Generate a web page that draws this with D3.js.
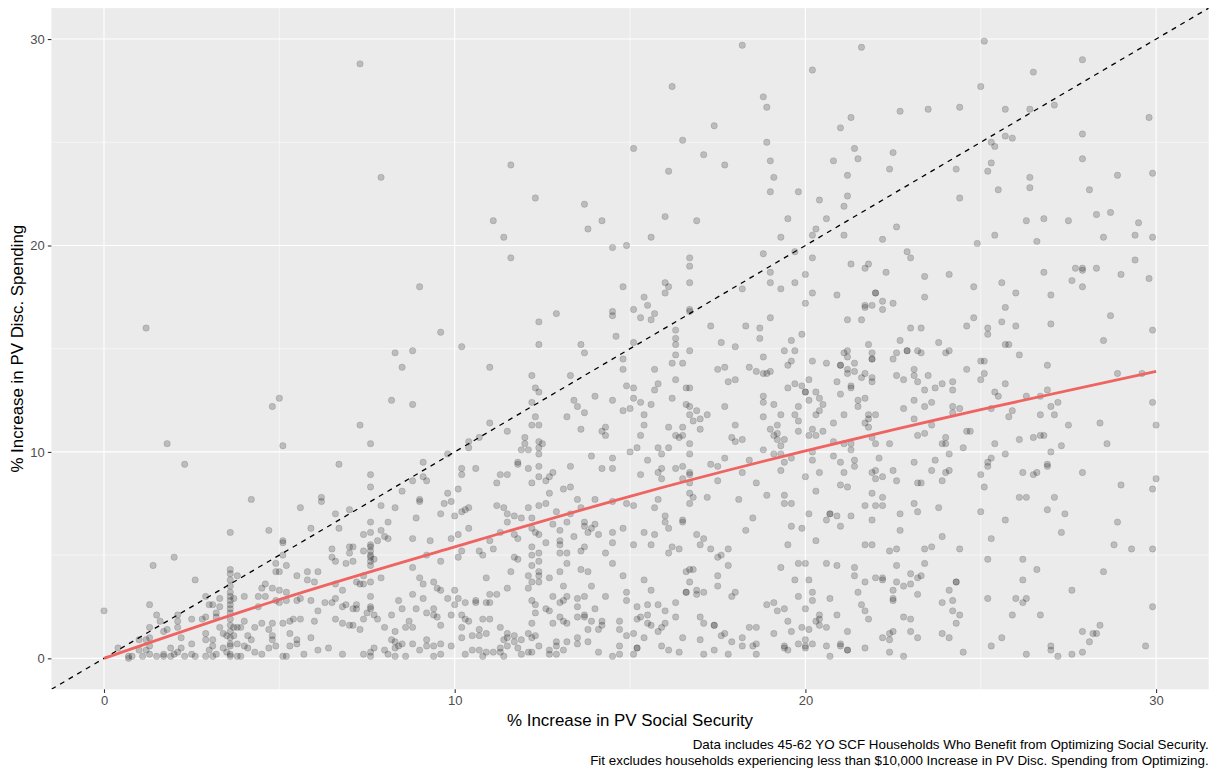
<!DOCTYPE html>
<html>
<head>
<meta charset="utf-8">
<script src="https://cdn.jsdelivr.net/npm/d3@7"></script>
<style>
  body { margin: 0; background: #fff; }
  text { font-family: "Liberation Sans", Arial, Helvetica, sans-serif; }
</style>
</head>
<body>
<div id="chart"></div>
<script>
// ---- data: [% increase in PV Social Security, % increase in PV disc. spending]
const pointsBand1 = [
  [1.2,16.0],[5.0,12.6],[4.8,12.2],[1.8,10.4],[5.1,10.3],[2.3,9.4],[6.7,9.4],
  [4.2,7.7],[5.6,7.3],[6.2,7.8],[6.2,7.6],[6.6,7.0],[6.7,6.3],[3.6,6.1],[4.7,6.2],[5.9,6.3],[5.1,5.7],[5.1,5.6],
  [0.0,2.3],[1.4,4.5],[2.0,4.9],[2.6,3.8],[5.2,4.5],[4.9,4.6],[4.9,4.2],[6.5,5.3],[6.5,4.9],[6.6,4.7],
  [3.6,4.3],[3.6,4.1],[3.6,3.8],[3.6,3.5],[3.6,3.2],[3.6,3.0],[3.6,2.8],[3.6,2.6],[3.6,2.4],[3.6,2.2],
  [3.6,1.9],[3.6,1.6],[3.6,1.3],[3.6,1.0],[3.6,0.6],[3.6,0.2],
  [3.8,4.0],[5.8,4.2],[6.1,4.2],[5.5,4.0],[5.8,3.8],[6.0,3.7],[4.5,3.4],[4.6,3.6],[4.8,3.4],[5.0,3.3],
  [5.2,3.2],[6.6,3.6],[2.9,3.0],[3.0,2.6],[3.1,2.6],[3.3,2.9],[3.3,2.5],[3.2,2.2],[3.2,2.0],[4.0,3.0],
  [3.7,2.9],[4.4,3.0],[4.6,3.0],[4.9,2.8],[5.0,2.7],[5.2,2.8],[5.5,2.8],[5.6,2.9],[5.9,2.8],[6.3,2.7],
  [6.5,2.7],[6.6,2.9],[6.1,2.3],[6.6,1.9],[1.3,2.6],[1.5,2.1],[1.6,1.8],[2.1,1.8],[2.1,2.1],[1.8,1.4],
  [2.1,1.5],[1.7,1.3],[1.3,1.5],[1.3,1.0],[1.2,0.9],[1.0,0.9],[0.4,0.5],[2.2,1.0],[2.5,1.9],[2.8,1.9],
  [2.9,2.0],[2.9,1.2],[2.9,0.9],[3.1,0.9],[2.5,0.7],[3.3,1.5],[3.4,1.2],[3.5,1.1],[3.7,1.5],[3.8,1.5],
  [3.9,1.5],[4.0,1.8],[3.6,0.7],[3.8,0.7],[4.0,0.6],[4.1,0.5],[4.2,0.9],[4.5,1.7],[4.8,1.7],[4.7,1.4],
  [4.8,1.1],[4.8,0.9],[4.9,0.6],[5.1,1.7],[5.3,1.2],[5.3,1.8],[5.4,1.9],[5.6,1.9],[5.5,0.9],[5.5,0.7],
  [5.3,0.6],[5.9,1.0],[6.0,1.8],[6.4,0.5],[6.1,0.4],[5.7,0.2],[5.1,0.1],[5.2,0.1],[4.5,0.2],[4.3,0.3],
  [4.7,0.5],[3.8,0.1],[3.9,0.1],[3.6,0.1],[3.4,0.5],[3.5,0.3],[3.2,0.2],[3.0,0.4],[3.1,0.6],[2.9,0.1],
  [3.1,0.1],[2.6,0.1],[2.5,0.2],[2.3,0.1],[2.2,0.5],[2.1,0.3],[2.0,0.2],[1.9,0.5],[1.9,0.1],[1.7,0.2],
  [1.7,0.1],[1.5,0.1],[1.3,0.2],[1.3,0.6],[1.1,0.1],[1.2,0.4],[1.0,0.4],[0.7,0.1],[0.7,0.0],[0.8,0.1],
  [4.3,1.5],[4.1,1.1],[5.1,5.0],[5.0,4.2],[4.4,2.5],[3.7,1.1]
];

const pointsBand2 = [
  [7.3,28.8],[7.9,23.3],[11.6,23.9],[12.3,22.3],[13.7,22.0],[11.1,21.2],[14.2,21.2],[13.8,20.8],[11.4,20.4],
  [14.5,19.9],[14.9,20.0],[11.6,19.4],[9.0,18.0],[14.8,18.0],[12.9,16.7],[14.5,16.8],[14.5,16.6],[12.4,16.3],
  [9.6,15.8],[14.6,15.6],[10.2,15.1],[12.4,15.2],[13.6,15.2],[13.7,14.8],[8.3,14.8],[8.8,14.9],[8.5,14.1],
  [11.0,14.1],[14.8,14.5],[14.8,14.0],[12.2,13.7],[13.3,13.7],[12.3,13.1],[12.4,12.9],[14.9,13.2],[8.2,12.5],
  [8.8,12.3],[12.2,12.4],[13.4,12.5],[13.5,12.2],[14.0,12.7],[14.5,12.5],[14.8,12.0],[13.7,11.9],[7.3,11.3],
  [12.3,11.7],[12.2,11.3],[12.4,11.3],[13.2,11.7],[13.6,11.1],[14.2,11.0],[14.3,11.2],[14.3,10.8],[11.0,11.4],
  [11.5,11.0],[7.6,10.4],[10.4,10.5],[10.4,10.2],[10.7,10.7],[12.0,10.7],[12.0,10.4],[11.9,10.1],[12.1,10.1],
  [12.4,10.5],[12.5,10.4],[12.4,10.2],[12.4,9.9],[13.9,9.8],[14.5,9.7],[9.8,9.9],[9.1,9.5],[15.0,10.0],[11.8,9.5],
  [7.6,8.9],[7.6,8.3],[8.8,8.6],[9.1,8.8],[9.2,8.6],[8.5,8.1],[9.0,7.6],[9.0,7.7],[7.9,7.4],[8.3,7.3],
  [7.0,7.2],[7.6,6.6],[7.6,6.1],[7.6,5.5],[7.6,5.4],[7.6,5.2],[7.6,5.0],[7.6,4.9],[7.6,4.7],[7.6,4.5],
  [7.7,4.8],[8.1,6.6],[7.9,6.2],[8.0,5.9],[8.1,5.8],[7.8,5.7],[7.4,6.0],[7.1,5.4],[7.0,5.4],[7.0,5.1],
  [7.4,5.2],[7.1,4.7],[6.9,4.6],[8.9,6.8],[8.8,5.8],[9.3,5.7],[9.2,5.0],[9.6,4.7],[9.6,7.0],[9.7,7.5],
  [9.8,8.0],[9.9,7.6],[10.0,6.9],[10.1,8.2],[9.9,5.8],[10.2,9.2],[10.2,8.9],[10.6,9.2],[10.2,7.1],[10.3,7.2],
  [10.4,7.3],[10.4,6.3],[10.1,6.0],[10.2,5.2],[10.1,4.9],[10.7,5.2],[10.8,5.0],[11.0,5.7],[11.1,5.3],[11.2,8.5],
  [11.3,8.9],[11.5,8.9],[11.2,7.4],[11.4,7.3],[11.5,7.0],[11.5,6.6],[11.7,6.9],[11.9,6.8],[11.3,6.1],[11.7,6.0],
  [11.8,5.8],[11.7,4.9],[11.8,4.8],[11.6,4.2],[10.9,3.9],[11.5,3.4],[11.2,3.1],[11.0,3.1],[11.8,9.4],[12.1,9.2],
  [12.4,9.3],[12.2,8.5],[12.4,8.8],[12.6,8.6],[12.7,8.8],[12.8,9.0],[12.7,8.0],[13.3,8.3],[13.1,8.2],[13.3,9.3],
  [14.2,9.2],[14.5,9.2],[12.1,7.3],[12.4,7.4],[12.6,7.5],[12.2,6.8],[12.2,6.3],[12.3,6.1],[12.4,6.0],[12.6,5.6],
  [12.2,5.4],[12.4,5.1],[12.2,5.0],[12.4,4.7],[12.2,4.5],[12.4,4.2],[12.4,4.0],[12.4,3.7],[12.1,4.0],[12.2,3.7],
  [12.1,3.4],[12.7,3.9],[13.0,4.2],[13.2,4.6],[13.6,4.3],[13.8,4.2],[13.1,3.5],[12.8,3.0],[13.1,2.8],[13.2,3.0],
  [13.0,2.7],[13.5,2.9],[13.7,3.0],[13.9,3.5],[13.5,2.5],[13.7,2.1],[14.0,2.4],[14.3,3.0],[13.5,2.0],[13.7,2.0],
  [12.8,1.7],[13.0,2.0],[13.1,1.8],[13.2,1.7],[12.2,2.8],[12.3,2.6],[12.6,2.4],[12.7,2.3],[12.3,2.2],[12.2,1.7],
  [12.1,1.2],[12.3,1.1],[12.2,1.0],[13.9,1.8],[14.2,1.8],[14.2,1.6],[14.1,1.4],[13.8,1.4],[14.7,1.8],[14.7,1.4],
  [14.9,1.1],[13.5,1.0],[13.5,0.7],[13.8,0.8],[13.2,0.8],[12.9,0.8],[12.9,0.6],[13.1,0.4],[12.9,0.2],[12.7,0.4],
  [12.7,0.2],[12.4,0.6],[12.2,0.3],[12.1,0.3],[11.9,0.9],[11.8,0.5],[11.9,0.2],[11.7,0.8],[11.7,1.1],[11.5,1.2],
  [11.5,1.0],[11.4,0.9],[11.5,0.6],[11.3,0.5],[11.4,0.1],[11.3,0.3],[11.1,0.3],[10.9,0.3],[10.7,0.4],[10.8,0.1],
  [10.5,0.4],[10.3,0.2],[10.7,1.4],[10.5,1.1],[10.7,1.1],[10.2,1.0],[10.2,1.5],[10.9,1.2],[11.3,1.5],[10.2,2.1],
  [10.3,1.9],[10.4,1.8],[10.8,1.9],[11.0,1.9],[10.0,2.6],[10.1,2.9],[10.3,2.7],[10.6,2.7],[10.6,2.8],[10.9,2.7],
  [11.0,2.7],[10.0,3.3],[9.8,2.9],[9.6,3.3],[9.5,3.4],[9.4,3.7],[9.0,3.9],[9.1,3.6],[8.8,3.1],[9.1,2.9],
  [8.4,2.8],[8.5,2.4],[8.9,2.4],[9.2,2.2],[9.4,2.4],[9.4,2.1],[9.5,2.0],[9.9,2.1],[9.6,1.6],[8.7,1.8],
  [8.8,1.5],[8.6,1.5],[8.2,2.1],[7.8,1.9],[7.7,2.1],[7.6,2.5],[7.6,2.4],[7.5,2.2],[7.6,3.0],[7.2,2.4],
  [7.1,2.4],[6.9,2.6],[7.2,2.6],[6.8,2.5],[7.4,1.9],[6.8,1.7],[7.0,1.6],[7.1,1.6],[7.3,1.4],[8.0,1.5],
  [8.3,1.3],[8.2,0.9],[8.3,0.8],[8.5,0.7],[8.4,0.6],[8.8,0.7],[8.3,0.5],[8.0,0.4],[7.7,0.5],[7.6,0.3],
  [7.4,0.2],[7.6,0.1],[8.1,0.2],[8.3,0.1],[8.6,0.1],[6.8,0.2],[9.0,0.4],[9.2,0.9],[9.2,0.6],[9.4,0.6],
  [9.6,0.7],[9.6,0.2],[9.4,0.1],[9.9,0.6],[7.3,3.6],[7.2,3.7],[7.4,3.6],[7.6,3.7],[7.9,3.9],[7.4,4.0],
  [6.8,3.3],[8.8,4.4],[14.5,6.1],[14.5,5.6],[14.3,5.1],[14.5,4.6],[14.8,4.0],[14.9,3.2],[14.9,2.8],[14.8,6.3],
  [14.7,0.6],[14.7,0.2],[14.5,0.1],[14.1,0.3],[14.5,7.6],[14.9,7.5],[14.0,7.7],[13.5,7.7],[13.6,7.3],[13.7,6.6],
  [13.7,6.4],[13.9,6.3],[13.8,6.1],[14.1,6.0],[14.0,6.5],[13.4,5.9],[13.7,5.4],[13.6,5.2],[13.2,5.1],[13.0,5.1],
  [13.0,5.5],[13.0,5.7],[13.0,6.2],[13.2,6.6],[12.8,6.5],[12.9,7.1],[13.3,7.0]
];

const pointsBand3 = [
  [18.2,29.7],[16.2,27.7],[18.8,27.2],[18.9,26.7],[17.4,25.8],[16.5,25.1],[15.1,24.7],[18.9,25.0],[17.1,24.4],
  [19.0,24.1],[17.7,23.9],[16.1,23.6],[19.1,23.3],[19.0,22.6],[19.8,22.6],[16.0,21.4],[16.9,21.2],[19.5,21.3],
  [20.2,28.5],[21.6,29.6],[22.7,26.5],[21.3,26.2],[21.0,25.7],[21.4,24.7],[21.5,24.2],[22.5,24.5],[20.8,24.1],
  [22.4,23.7],[21.2,23.4],[21.2,22.4],[20.4,22.2],[21.1,21.9],[20.6,21.3],[22.6,20.9],[20.3,20.8],[20.2,20.5],
  [21.1,20.5],[19.3,20.4],[15.6,20.4],
  [22.2,20.3],[18.8,19.6],[19.7,19.7],[20.2,19.4],[16.7,19.4],[16.7,19.0],[16.7,18.2],[16.0,18.2],[16.1,18.0],
  [16.0,17.7],[15.4,17.5],[15.5,17.1],[15.1,16.9],[15.3,16.5],[15.6,16.4],[15.7,16.7],[16.7,16.9],[16.7,16.8],
  [16.3,15.9],[16.3,15.5],[16.3,15.2],[15.1,15.3],[16.7,14.9],[16.3,14.7],[16.2,14.3],[16.5,14.3],[15.7,14.0],
  [16.3,13.5],[15.8,13.3],[15.7,13.0],[15.1,13.1],[15.1,12.6],[15.3,12.4],[15.0,12.1],[15.4,11.8],[15.4,11.3],
  [15.6,12.3],[16.2,12.6],[16.6,13.1],[16.7,13.1],[16.6,12.3],[16.7,12.2],[16.9,12.0],[16.7,11.8],[17.0,11.6],
  [16.8,11.5],[17.2,11.8],[17.0,11.1],[16.5,11.2],[16.1,11.2],[16.3,10.8],[16.5,10.8],[16.4,10.7],[15.3,10.8],
  [16.7,10.4],[15.2,10.2],[15.8,10.2],[16.1,10.2],[15.9,9.9],[16.7,9.9],[15.5,9.6],[17.3,16.1],[17.6,15.3],
  [18.0,15.1],[18.2,17.9],[18.3,16.1],[18.7,16.0],[18.7,15.5],[19.0,16.5],[19.0,18.7],[19.0,18.2],[19.3,17.9],
  [19.7,18.2],[20.0,18.6],[20.2,17.7],[20.0,17.2],[19.9,15.7],[19.6,15.4],[19.4,14.9],[19.7,14.9],[18.8,14.6],
  [19.6,14.4],[19.5,14.2],[18.4,14.1],[17.5,14.0],[17.7,14.1],[18.6,13.9],[18.8,13.8],[18.9,13.8],[19.0,13.9],
  [17.8,13.4],[18.0,13.5],[19.7,13.3],[19.5,13.1],[19.9,13.2],[20.0,12.9],[20.0,12.9],[18.8,12.7],[18.8,12.4],
  [19.1,12.3],[17.7,12.2],[19.8,12.2],[18.8,11.7],[19.3,11.8],[19.7,11.8],[19.8,11.5],[18.0,11.3],[19.0,11.1],
  [19.2,11.3],[19.2,10.9],[19.8,11.0],[19.1,10.8],[19.2,10.6],[19.4,10.6],[19.3,10.3],[17.9,10.7],[18.0,10.5],
  [18.2,10.6],[18.8,10.1],[19.1,9.9],[19.3,9.9],[19.4,9.5],[19.6,9.7],[17.7,9.7],[18.4,9.6],[17.3,9.4],
  [21.3,19.1],[21.7,18.9],[21.8,19.1],[22.3,18.7],[22.9,19.7],[23.0,19.4],[20.9,17.6],[22.0,17.7],[22.0,17.7],
  [21.7,17.1],[21.7,17.0],[21.9,17.1],[22.2,17.3],[22.2,16.9],[22.5,17.2],[21.2,16.4],[21.6,16.4],[23.0,16.0],
  [22.7,15.4],[21.8,15.2],[21.1,14.8],[21.2,14.9],[21.9,14.8],[21.9,14.5],[21.9,14.5],[21.2,14.6],[20.2,14.4],
  [20.6,14.3],[21.0,14.2],[21.0,14.2],[21.4,14.3],[21.2,14.0],[21.2,13.8],[21.4,13.9],[21.7,13.8],[21.6,13.6],
  [21.9,13.6],[21.9,13.4],[22.5,14.5],[22.6,14.8],[22.9,14.9],[22.9,14.9],[23.2,14.9],[23.1,14.0],[22.6,13.7],
  [22.8,13.5],[23.1,13.7],[23.2,13.4],[20.1,13.5],[20.9,13.4],[21.3,13.2],[21.3,13.1],[20.3,12.9],[21.0,12.8],
  [20.4,12.6],[20.1,12.5],[20.5,12.3],[21.5,12.5],[21.7,12.6],[21.5,12.2],[20.4,12.0],[20.3,11.8],[21.1,11.8],
  [21.8,11.8],[21.8,11.6],[22.0,11.8],[22.8,12.1],[23.1,12.5],[23.1,11.6],[20.8,11.4],[21.7,11.4],[21.8,11.2],
  [20.2,11.1],[20.5,11.0],[20.1,10.8],[20.3,10.8],[21.9,10.7],[22.0,10.4],[22.4,10.4],[20.8,10.5],[21.1,10.4],
  [21.3,10.4],[21.3,10.1],[20.2,10.0],[20.8,9.8],[22.1,9.7],[20.2,9.6],[21.0,9.5],[21.4,9.6],[23.1,9.5],[23.2,10.8],
  [15.3,8.9],[15.8,9.0],[15.9,9.2],[15.9,8.7],[16.3,9.2],[16.5,9.3],[16.5,8.7],[16.7,9.0],[16.7,8.9],[16.7,8.5],
  [17.5,9.3],[17.5,8.6],[18.2,9.0],[18.6,8.5],[19.3,9.1],[20.0,8.8],[20.4,9.0],[21.1,9.0],[21.4,9.3],[21.9,9.0],
  [22.0,9.1],[22.0,8.7],[22.2,8.8],[22.5,9.1],[22.6,8.6],[23.2,8.5],[21.0,8.4],[21.2,8.3],[20.3,8.1],[21.9,8.0],
  [22.2,7.8],[21.7,7.4],[22.0,7.4],[22.2,7.4],[22.7,7.0],[23.1,7.5],[23.2,7.1],[21.9,6.7],[22.7,6.2],[21.7,5.5],
  [21.9,5.5],[22.4,5.2],[22.6,5.3],[15.8,7.7],[15.7,7.3],[15.1,7.4],[16.0,6.9],[16.0,6.6],[16.1,6.3],[16.5,6.6],
  [16.5,6.7],[16.7,8.0],[16.8,7.8],[16.7,7.5],[17.2,7.8],[18.1,7.7],[18.9,7.9],[19.4,7.9],[19.4,7.5],[19.6,7.5],
  [18.5,6.8],[18.3,6.2],[19.6,6.4],[19.9,6.3],[20.1,7.0],[20.7,7.0],[20.7,7.0],[20.6,6.7],[20.9,6.9],[21.3,6.9],
  [21.0,6.4],[20.3,5.7],[19.5,5.5],[15.4,6.1],[15.7,6.0],[15.1,5.5],[15.6,5.5],[16.2,5.4],[16.4,5.3],[16.1,5.1],
  [16.9,6.0],[17.1,5.8],[17.0,5.5],[17.3,5.3],[17.8,5.3],[17.6,5.0],[17.5,4.9],[17.8,4.5],[16.6,4.2],[16.7,4.3],
  [16.8,4.3],[17.5,4.0],[15.4,3.8],[16.7,3.7],[17.5,3.5],[15.6,3.3],[16.6,3.2],[16.6,3.2],[16.9,3.3],[16.9,3.1],
  [17.1,3.2],[18.0,3.2],[17.9,3.0],[16.3,2.7],[15.2,2.5],[15.5,2.6],[15.8,2.6],[16.0,2.3],[16.3,2.0],[15.5,2.1],
  [15.3,2.0],[15.2,1.9],[15.5,1.7],[15.6,1.6],[16.0,1.7],[15.9,1.5],[15.8,1.3],[15.1,1.2],[15.4,1.0],[15.2,0.5],
  [15.2,0.5],[15.1,0.2],[15.9,0.6],[16.1,0.4],[16.4,0.3],[16.5,1.0],[17.0,0.9],[17.1,0.2],[17.4,0.4],[17.8,0.2],
  [17.0,2.0],[17.1,1.7],[17.4,1.6],[17.4,1.6],[17.6,1.1],[17.7,1.2],[17.9,0.8],[18.2,0.6],[18.2,1.0],[18.4,1.5],
  [18.6,1.5],[18.5,0.6],[18.6,0.7],[18.6,0.2],[18.9,2.6],[19.1,2.7],[19.2,2.3],[19.4,2.4],[19.5,1.8],[19.1,1.2],
  [19.6,1.3],[19.4,0.6],[19.4,0.5],[19.5,0.4],[19.8,0.7],[20.0,2.4],[19.9,1.5],[20.1,1.4],[20.0,0.9],[20.0,0.6],
  [20.0,0.5],[20.2,0.7],[20.6,0.6],[20.7,0.1],[21.0,0.6],[21.0,0.7],[21.2,0.4],[21.2,0.4],[21.7,0.5],[22.4,0.3],
  [22.8,0.1],[19.3,4.4],[19.7,3.8],[19.8,4.6],[20.0,4.6],[20.1,3.8],[20.2,3.2],[19.8,3.0],[20.2,2.8],[20.6,4.6],
  [20.9,4.5],[21.4,4.4],[21.4,4.0],[21.7,3.7],[22.0,3.9],[22.2,3.9],[22.2,3.8],[22.6,4.5],[22.6,3.7],[22.8,3.5],
  [23.0,4.1],[23.0,3.6],[23.2,3.9],[23.2,3.1],[22.5,3.3],[22.5,2.8],[22.5,2.9],[21.5,3.2],[20.7,2.9],[21.6,2.6],
  [21.7,2.3],[21.8,1.9],[20.9,2.1],[20.4,2.1],[20.3,1.8],[20.4,1.9],[20.4,1.6],[20.6,1.5],[21.2,1.3],[22.8,2.0],
  [23.0,1.9],[23.0,1.3],[23.2,1.0],[22.2,1.0],[22.4,1.2],[22.5,1.3],[22.4,0.9]
];

const pointsBand4 = [
  [25.1,29.9],[27.9,29.0],[26.5,28.4],[25.0,27.7],[23.5,26.6],[24.4,26.7],[25.7,26.6],[26.4,26.6],[27.1,26.8],
  [29.8,26.2],[25.7,25.3],[25.9,25.2],[27.9,25.4],[25.3,25.0],[25.4,24.8],[25.3,24.0],[25.2,23.6],[24.3,23.7],
  [27.9,24.2],[26.4,23.3],[26.4,22.8],[25.5,22.7],[28.1,22.7],[28.9,23.4],[29.9,23.5],[24.4,22.3],[26.3,21.2],
  [26.8,21.3],[27.5,21.2],[28.3,21.5],[28.7,21.6],[29.5,21.1],[25.4,20.5],[28.5,20.4],[29.4,20.5],[29.9,20.4],
  [24.9,20.1],[26.6,20.2],[23.4,18.5],[24.1,18.6],[23.4,17.5],[24.8,18.0],[25.6,18.2],[26.0,17.7],[26.8,18.7],
  [27.0,17.6],[27.6,18.3],[27.7,18.9],[27.9,18.9],[27.9,18.8],[28.3,18.9],[27.9,18.0],[29.0,18.6],[29.4,19.3],
  [29.8,18.4],[23.3,16.0],[24.6,16.1],[24.8,16.5],[25.2,16.0],[25.2,15.7],[25.6,16.3],[25.7,17.0],[26.0,16.1],
  [27.0,16.2],[28.7,16.6],[29.9,15.9],[23.8,15.3],[23.3,14.8],[24.0,14.8],[24.1,14.9],[25.7,15.2],[25.8,15.2],
  [28.5,15.4],[26.1,14.7],[25.0,14.4],[25.1,14.4],[26.9,14.2],[24.6,14.0],[23.5,13.7],[25.1,13.8],[25.0,13.5],
  [23.9,13.3],[24.2,13.4],[25.7,13.3],[28.9,13.8],[29.6,13.8],[23.4,13.0],[23.7,13.1],[24.2,13.0],[25.4,12.9],
  [25.5,12.7],[26.3,12.7],[26.7,12.7],[26.9,13.0],[23.6,12.4],[24.2,12.2],[24.4,12.1],[23.4,12.2],[24.2,11.9],
  [25.3,12.1],[25.9,12.0],[25.8,11.7],[27.2,12.4],[27.0,12.2],[26.7,11.8],[27.1,11.8],[29.9,12.4],[23.6,11.3],
  [23.4,10.9],[24.6,11.0],[24.7,11.0],[27.5,11.3],[28.4,11.4],[30.0,11.3],[24.0,10.7],[23.9,10.4],[24.0,10.4],
  [24.5,10.2],[25.4,10.4],[26.1,10.6],[26.5,10.7],[26.7,10.8],[26.8,10.8],[27.3,10.3],[28.6,10.4],[24.1,9.9],
  [23.7,9.6],[25.3,9.7],[25.7,9.9],[25.2,9.5],[27.0,10.0],[26.9,9.4],
  [23.6,9.1],[24.0,9.0],[24.1,9.1],[23.3,8.5],[23.9,8.6],[25.0,8.9],[25.2,9.3],[25.1,8.3],[26.2,9.0],[26.5,8.9],
  [26.6,9.0],[26.9,9.3],[27.9,9.0],[26.1,7.8],[26.3,7.8],[27.1,7.8],[29.0,8.4],[30.0,8.7],[29.9,8.2],[23.8,7.3],
  [25.0,7.1],[26.9,7.2],[27.4,7.0],[25.7,6.7],[28.9,6.6],[27.3,6.1],[23.9,5.9],[25.3,5.8],[23.4,5.3],[23.6,5.4],
  [24.4,5.3],[28.8,5.5],[29.3,5.3],[29.9,5.3],[23.4,4.6],[23.3,4.0],[25.2,4.8],[26.2,4.8],[26.6,4.3],[26.2,3.8],
  [28.5,4.2],[24.3,3.7],[24.3,3.7],[24.1,3.3],[27.6,3.3],[23.9,2.7],[24.2,2.8],[24.2,2.3],[24.4,2.1],[24.3,1.7],
  [25.2,2.9],[26.0,2.9],[26.2,2.7],[26.3,2.9],[25.9,2.1],[26.7,2.1],[29.9,2.5],[23.9,1.2],[24.1,1.0],[24.5,0.3],
  [25.3,0.6],[25.6,1.0],[26.3,0.2],[27.0,0.6],[27.0,0.4],[27.2,0.1],[27.6,0.2],[27.9,0.3],[27.9,1.3],[28.1,0.8],
  [28.2,1.2],[28.3,1.2],[28.4,1.6],[29.7,0.6]
];

// smoothed fit
const fitSS = [0, 5, 10, 15, 20, 25, 30];
const fitSpend = [0, 2.85, 5.4, 7.85, 10.05, 12.05, 13.9];

const majorTicks = [0, 10, 20, 30];
const minorTicks = [5, 15, 25];
const xTitle = "% Increase in PV Social Security";
const yTitle = "% Increase in PV Disc. Spending";
const captionLines = [
  "Data includes 45-62 YO SCF Households Who Benefit from Optimizing Social Security.",
  "Fit excludes households experiencing less than $10,000 Increase in PV Disc. Spending from Optimizing."
];

// -----------------------------
// SVG + SCALES
// -----------------------------
const width = 1214, height = 769;
const panel = { left: 51.4, right: 1208.7, top: 8.1, bottom: 689.3 };

const svg = d3.select("#chart").append("svg")
  .attr("width", width)
  .attr("height", height);

const x = d3.scaleLinear().domain([-1.5, 31.5]).range([panel.left, panel.right]);
const y = d3.scaleLinear().domain([-1.5, 31.5]).range([panel.bottom, panel.top]);

svg.append("rect")
  .attr("x", panel.left).attr("y", panel.top)
  .attr("width", panel.right - panel.left)
  .attr("height", panel.bottom - panel.top)
  .attr("fill", "#EBEBEB");

svg.append("clipPath").attr("id", "panel-clip")
  .append("rect")
  .attr("x", panel.left).attr("y", panel.top)
  .attr("width", panel.right - panel.left)
  .attr("height", panel.bottom - panel.top);

// grid
const grid = svg.append("g");
grid.selectAll(".vminor").data(minorTicks).enter().append("line")
  .attr("x1", d => x(d)).attr("x2", d => x(d))
  .attr("y1", panel.top).attr("y2", panel.bottom)
  .attr("stroke", "#fff").attr("stroke-width", 0.55);
grid.selectAll(".hminor").data(minorTicks).enter().append("line")
  .attr("y1", d => y(d)).attr("y2", d => y(d))
  .attr("x1", panel.left).attr("x2", panel.right)
  .attr("stroke", "#fff").attr("stroke-width", 0.55);
grid.selectAll(".vmajor").data(majorTicks).enter().append("line")
  .attr("x1", d => x(d)).attr("x2", d => x(d))
  .attr("y1", panel.top).attr("y2", panel.bottom)
  .attr("stroke", "#fff").attr("stroke-width", 1.1);
grid.selectAll(".hmajor").data(majorTicks).enter().append("line")
  .attr("y1", d => y(d)).attr("y2", d => y(d))
  .attr("x1", panel.left).attr("x2", panel.right)
  .attr("stroke", "#fff").attr("stroke-width", 1.1);

// -----------------------------
// POINTS
// -----------------------------
const allPoints = [].concat(pointsBand1, pointsBand2, pointsBand3, pointsBand4);

svg.append("g")
  .selectAll("circle")
  .data(allPoints)
  .enter()
  .append("circle")
  .attr("cx", d => x(d[0]))
  .attr("cy", d => y(d[1]))
  .attr("r", 3.2)
  .attr("fill", "#000")
  .attr("fill-opacity", 0.2)
  .attr("stroke", "#000")
  .attr("stroke-opacity", 0.2)
  .attr("stroke-width", 0.6);

// -----------------------------
// 45 DEGREE LINE + FIT
// -----------------------------
svg.append("line")
  .attr("clip-path", "url(#panel-clip)")
  .attr("x1", x(-1.5)).attr("y1", y(-1.5))
  .attr("x2", x(31.5)).attr("y2", y(31.5))
  .attr("stroke", "#000")
  .attr("stroke-width", 1.3)
  .attr("stroke-dasharray", "5,5");

const fitLine = d3.line()
  .x(d => x(d[0]))
  .y(d => y(d[1]))
  .curve(d3.curveNatural);

svg.append("path")
  .datum(fitSS.map((v, i) => [v, fitSpend[i]]))
  .attr("fill", "none")
  .attr("stroke", "#EF6461")
  .attr("stroke-width", 2.8)
  .attr("d", fitLine);

// -----------------------------
// AXES
// -----------------------------
const xAxis = svg.append("g")
  .attr("transform", `translate(0,${panel.bottom})`)
  .call(d3.axisBottom(x).tickValues(majorTicks).tickSize(3.6).tickPadding(3));
const yAxis = svg.append("g")
  .attr("transform", `translate(${panel.left},0)`)
  .call(d3.axisLeft(y).tickValues(majorTicks).tickSize(3.6).tickPadding(3));

[xAxis, yAxis].forEach(a => {
  a.select(".domain").remove();
  a.selectAll(".tick line").attr("stroke", "#333").attr("stroke-width", 1.1);
  a.selectAll(".tick text")
    .attr("fill", "#4D4D4D")
    .style("font-size", "13px")
    .style("font-family", "'Liberation Sans', Arial, sans-serif");
});

svg.append("text")
  .attr("x", (panel.left + panel.right) / 2)
  .attr("y", 726)
  .attr("text-anchor", "middle")
  .style("font-size", "16.9px")
  .text(xTitle);

svg.append("text")
  .attr("transform", `translate(23,${(panel.top + panel.bottom) / 2}) rotate(-90)`)
  .attr("text-anchor", "middle")
  .style("font-size", "16.9px")
  .text(yTitle);

svg.append("g")
  .selectAll("text")
  .data(captionLines)
  .enter()
  .append("text")
  .attr("x", panel.right)
  .attr("y", (d, i) => 749 + i * 15.5)
  .attr("text-anchor", "end")
  .style("font-size", "13.4px")
  .text(d => d);
</script>
</body>
</html>
